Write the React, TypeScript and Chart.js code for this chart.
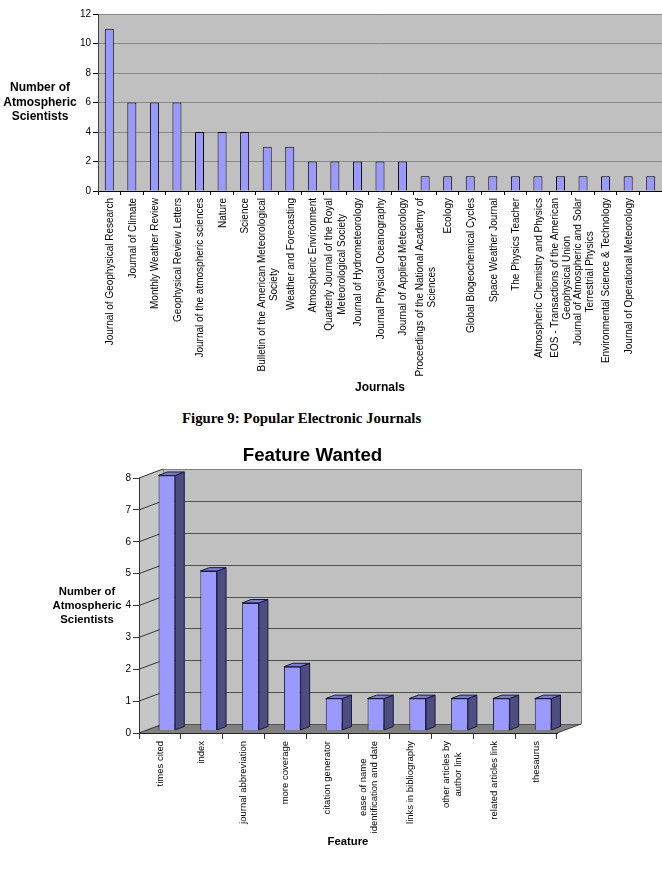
import React, { useEffect, useRef } from "react";
import { Chart, registerables } from "chart.js";

Chart.register(...registerables);

const FONT = '"Liberation Sans", Arial, Helvetica, sans-serif';

// ---------- Data: Figure 9 (Popular Electronic Journals) ----------
const journalLabels: string[][] = [
  ["Journal of Geophysical Research"],
  ["Journal of Climate"],
  ["Monthly Weather Review"],
  ["Geophysical Review Letters"],
  ["Journal of the atmospheric sciences"],
  ["Nature"],
  ["Science"],
  ["Bulletin of the American Meteorological", "Society"],
  ["Weather and Forecasting"],
  ["Atmospheric Environment"],
  ["Quarterly Journal of the Royal", "Meteorological Society"],
  ["Journal of Hydrometeorology"],
  ["Journal Physical Oceanography"],
  ["Journal of Applied Meteorology"],
  ["Proceedings of the National Academy of", "Sciences"],
  ["Ecology"],
  ["Global Biogeochemical Cycles"],
  ["Space Weather Journal"],
  ["The Physics Teacher"],
  ["Atmospheric Chemistry and Physics"],
  ["EOS - Transactions of the American", "Geophysical Union"],
  ["Journal of Atmospheric and Solar", "Terrestrial Physics"],
  ["Environmental Science & Technology"],
  ["Journal of Operational Meteorology"],
  [""],
];
const journalCounts: number[] = [11, 6, 6, 6, 4, 4, 4, 3, 3, 2, 2, 2, 2, 2, 1, 1, 1, 1, 1, 1, 1, 1, 1, 1, 1];
const journalAxisMax = 12;
const journalAxisStep = 2;
const journalXTitle = "Journals";
const caption = "Figure 9: Popular Electronic Journals";

// ---------- Data: Feature Wanted ----------
const featureTitle = "Feature Wanted";
const featureLabels: string[][] = [
  ["times cited"],
  ["index"],
  ["journal abbreviation"],
  ["more coverage"],
  ["citation generator"],
  ["ease of name", "identification and date"],
  ["links in bibliography"],
  ["other articles by", "author link"],
  ["related articles link"],
  ["thesaurus"],
];
const featureCounts: number[] = [8, 5, 4, 2, 1, 1, 1, 1, 1, 1];
const featureAxisMax = 8;
const featureAxisStep = 1;
const featureXTitle = "Feature";

const yTitleLines: string[] = ["Number of", "Atmospheric", "Scientists"];

// ---------- Plugins ----------
function makePlotBg(color: string) {
  return {
    id: "plotBg",
    beforeDraw(chart: any) {
      const { ctx, chartArea: a } = chart;
      ctx.save();
      ctx.fillStyle = color;
      ctx.fillRect(a.left, a.top, a.right - a.left, a.bottom - a.top);
      ctx.restore();
    },
  };
}

function makeSideTitle(lines: string[], x: number, lh: number, font: string) {
  return {
    id: "sideTitle",
    afterDraw(chart: any) {
      const { ctx, chartArea: a } = chart;
      const mid = (a.top + a.bottom) / 2;
      ctx.save();
      ctx.font = font;
      ctx.fillStyle = "#000";
      ctx.textAlign = "center";
      ctx.textBaseline = "middle";
      const n = lines.length;
      lines.forEach((l, i) => ctx.fillText(l, x, mid + (i - (n - 1) / 2) * lh));
      ctx.restore();
    },
  };
}

function makeRotLabels(font: string, lh: number, gap: number, dx: number) {
  return {
    id: "rotLabels",
    afterDraw(chart: any) {
      const xs = chart.scales.x;
      const ctx = chart.ctx;
      const tickLen = xs.options.grid.tickLength;
      const labels = chart.data.labels as string[][];
      ctx.save();
      ctx.font = font;
      ctx.fillStyle = "#000";
      ctx.textAlign = "center";
      ctx.textBaseline = "middle";
      labels.forEach((lines, i) => {
        const x = xs.getPixelForValue(i) + dx;
        const y = xs.top + tickLen + gap;
        const w = Math.max(...lines.map((l) => ctx.measureText(l).width));
        ctx.save();
        ctx.translate(x, y);
        ctx.rotate(-Math.PI / 2);
        const n = lines.length;
        lines.forEach((l, j) => ctx.fillText(l, -w / 2, (j - (n - 1) / 2) * lh));
        ctx.restore();
      });
      ctx.restore();
    },
  };
}

const DEPTH_X = 24;
const DEPTH_Y = -9;
const BAR_OFF_X = 7;
const BAR_OFF_Y = -2.6;
const BAR_D_X = 9;
const BAR_D_Y = -3.4;

const threeDPlugin = {
  id: "threeD",
  beforeDraw(chart: any) {
    const { ctx, chartArea: a, scales } = chart;
    const ys = scales.y;
    const L = a.left, R = a.right, T = a.top, B = a.bottom;
    const dx = DEPTH_X, dy = DEPTH_Y;
    ctx.save();
    // back wall
    ctx.fillStyle = "#C0C0C0";
    ctx.fillRect(L + dx, T + dy, R - L, B - T);
    // side wall
    ctx.beginPath();
    ctx.moveTo(L, T);
    ctx.lineTo(L + dx, T + dy);
    ctx.lineTo(L + dx, B + dy);
    ctx.lineTo(L, B);
    ctx.closePath();
    ctx.fillStyle = "#C6C6C6";
    ctx.fill();
    // floor
    ctx.beginPath();
    ctx.moveTo(L, B);
    ctx.lineTo(R, B);
    ctx.lineTo(R + dx, B + dy);
    ctx.lineTo(L + dx, B + dy);
    ctx.closePath();
    ctx.fillStyle = "#808080";
    ctx.fill();
    // gridlines on walls
    ctx.lineWidth = 1;
    ys.ticks.forEach((t: any) => {
      const p = ys.getPixelForValue(t.value);
      const yb = Math.round(p + dy) + 0.5;
      ctx.strokeStyle = t.value === 0 ? "#555" : t.value === featureAxisMax ? "#808080" : "#505050";
      ctx.beginPath();
      ctx.moveTo(L + dx, yb);
      ctx.lineTo(R + dx, yb);
      ctx.stroke();
      ctx.strokeStyle = "#333";
      ctx.beginPath();
      ctx.moveTo(L, p);
      ctx.lineTo(L + dx, p + dy);
      ctx.stroke();
    });
    // wall outlines
    ctx.strokeStyle = "#808080";
    ctx.beginPath();
    ctx.moveTo(Math.round(L + dx) + 0.5, T + dy);
    ctx.lineTo(Math.round(L + dx) + 0.5, B + dy);
    ctx.moveTo(Math.round(R + dx) + 0.5, T + dy);
    ctx.lineTo(Math.round(R + dx) + 0.5, B + dy);
    ctx.stroke();
    ctx.strokeStyle = "#404040";
    ctx.beginPath();
    ctx.moveTo(R, B);
    ctx.lineTo(R + dx, B + dy);
    ctx.stroke();
    ctx.restore();
  },
  beforeDatasetsDraw(chart: any) {
    chart.ctx.save();
    chart.ctx.translate(BAR_OFF_X, BAR_OFF_Y);
  },
  afterDatasetsDraw(chart: any) {
    const ctx = chart.ctx;
    const meta = chart.getDatasetMeta(0);
    ctx.lineWidth = 1;
    ctx.strokeStyle = "#1a1a3a";
    meta.data.forEach((el: any) => {
      const { x, y, base, width } = el.getProps(["x", "y", "base", "width"], true);
      const left = x - width / 2;
      const right = x + width / 2;
      // side face
      ctx.beginPath();
      ctx.moveTo(right, y);
      ctx.lineTo(right + BAR_D_X, y + BAR_D_Y);
      ctx.lineTo(right + BAR_D_X, base + BAR_D_Y);
      ctx.lineTo(right, base);
      ctx.closePath();
      ctx.fillStyle = "#4D4D82";
      ctx.fill();
      ctx.stroke();
      // top face
      ctx.beginPath();
      ctx.moveTo(left, y);
      ctx.lineTo(left + BAR_D_X, y + BAR_D_Y);
      ctx.lineTo(right + BAR_D_X, y + BAR_D_Y);
      ctx.lineTo(right, y);
      ctx.closePath();
      ctx.fillStyle = "#7C7CD4";
      ctx.fill();
      ctx.stroke();
    });
    ctx.restore();
  },
};

export default function App() {
  const topRef = useRef<HTMLCanvasElement>(null);
  const botRef = useRef<HTMLCanvasElement>(null);

  useEffect(() => {
    const c1 = new Chart(topRef.current as HTMLCanvasElement, {
      type: "bar",
      data: {
        labels: journalLabels,
        datasets: [
          {
            data: journalCounts,
            backgroundColor: "#9999FF",
            borderColor: "#000",
            borderWidth: 1,
            barPercentage: 0.4,
            categoryPercentage: 1,
          },
        ],
      },
      options: {
        responsive: false,
        animation: false,
        devicePixelRatio: 1,
        layout: { padding: { top: 14, left: 0, right: 0, bottom: 0 } },
        plugins: { legend: { display: false }, tooltip: { enabled: false }, title: { display: false } },
        scales: {
          x: {
            grid: { display: true, drawOnChartArea: false, drawTicks: true, tickLength: 4, tickColor: "#000", offset: true },
            border: { display: true, color: "#000" },
            ticks: { display: false },
            title: {
              display: true,
              text: journalXTitle,
              color: "#000",
              font: { family: FONT, size: 12, weight: "bold" },
              padding: { top: 0, bottom: 4.8 },
            },
            afterFit: (s: any) => {
              s.height = 209;
            },
          },
          y: {
            min: 0,
            max: journalAxisMax,
            ticks: { stepSize: journalAxisStep, color: "#000", font: { family: FONT, size: 10 }, padding: 2 },
            grid: { color: "#888", tickColor: "#000", tickLength: 5 },
            border: { display: true, color: "#404040" },
            afterFit: (s: any) => {
              s.width = 98;
            },
          },
        },
      } as any,
      plugins: [
        makePlotBg("#C0C0C0"),
        makeSideTitle(yTitleLines, 40, 14.5, `bold 12px ${FONT}`),
        makeRotLabels(`10px ${FONT}`, 12.5, 3, 1),
      ],
    });

    const c2 = new Chart(botRef.current as HTMLCanvasElement, {
      type: "bar",
      data: {
        labels: featureLabels,
        datasets: [
          {
            data: featureCounts,
            backgroundColor: "#9999FF",
            borderColor: "#1a1a3a",
            borderWidth: 1,
            barPercentage: 0.4,
            categoryPercentage: 1,
            clip: false,
          } as any,
        ],
      },
      options: {
        responsive: false,
        animation: false,
        devicePixelRatio: 1,
        layout: { padding: { top: 0, left: 68, right: 105, bottom: 0 } },
        plugins: {
          legend: { display: false },
          tooltip: { enabled: false },
          title: {
            display: true,
            text: featureTitle,
            color: "#000",
            font: { family: FONT, size: 18.7, weight: "bold" },
            padding: { top: 5, bottom: 10.56 },
          },
        },
        scales: {
          x: {
            grid: { display: true, drawOnChartArea: false, drawTicks: true, tickLength: 6, tickColor: "#333", offset: true },
            border: { display: true, color: "#222" },
            ticks: { display: false },
            title: {
              display: true,
              text: featureXTitle,
              color: "#000",
              font: { family: FONT, size: 11.3, weight: "bold" },
              padding: { top: 0, bottom: 23.2 },
            },
            afterFit: (s: any) => {
              s.height = 139;
            },
          },
          y: {
            min: 0,
            max: featureAxisMax,
            ticks: { stepSize: featureAxisStep, color: "#000", font: { family: FONT, size: 10 }, padding: 2 },
            grid: { drawOnChartArea: false, tickColor: "#333", tickLength: 6 },
            border: { display: true, color: "#333" },
            afterFit: (s: any) => {
              s.width = 71;
            },
          },
        },
      } as any,
      plugins: [threeDPlugin, makeSideTitle(yTitleLines, 87, 14, `bold 11.3px ${FONT}`), makeRotLabels(`9.5px ${FONT}`, 11.7, 2, 0)],
    });

    return () => {
      c1.destroy();
      c2.destroy();
    };
  }, []);

  return (
    <div style={{ position: "absolute", left: 0, top: 0, width: 662, height: 872, background: "#fff", overflow: "hidden" }}>
      <canvas ref={topRef} width={662} height={400} style={{ position: "absolute", left: 0, top: 0, display: "block" }} />
      <div
        style={{
          position: "absolute",
          left: 182,
          top: 410,
          whiteSpace: "nowrap",
          font: 'bold 14.8px "Liberation Serif", "Times New Roman", serif',
          color: "#000",
        }}
      >
        {caption}
      </div>
      <canvas ref={botRef} width={662} height={432} style={{ position: "absolute", left: 0, top: 440, display: "block" }} />
    </div>
  );
}
